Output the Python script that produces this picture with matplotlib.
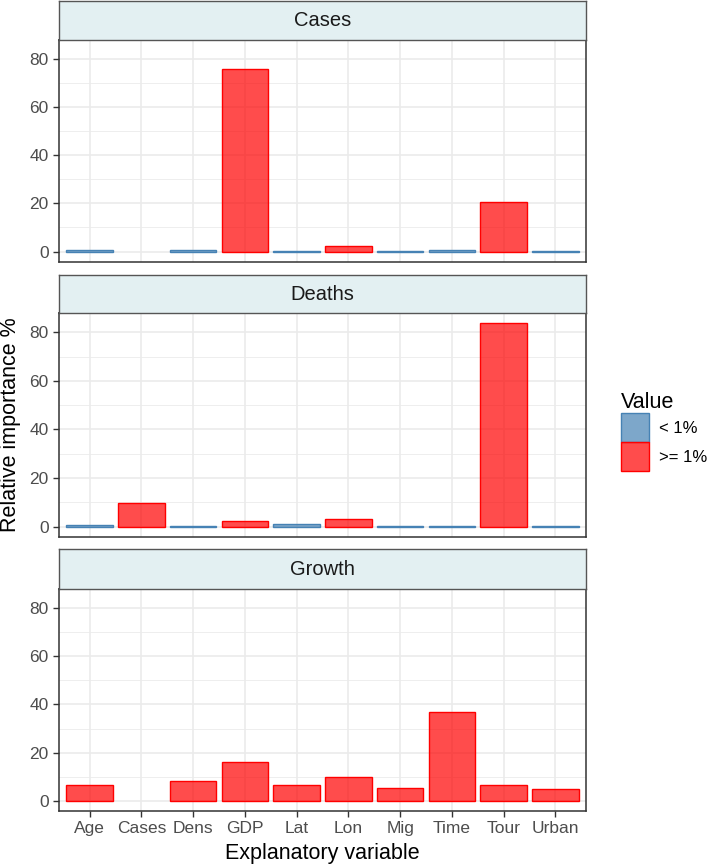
import matplotlib
matplotlib.use("Agg")
import matplotlib.pyplot as plt
import numpy as np
from matplotlib.patches import Patch

plt.rcParams['font.family'] = ['Liberation Sans', 'DejaVu Sans']

categories = ["Age", "Cases", "Dens", "GDP", "Lat", "Lon", "Mig", "Time", "Tour", "Urban"]
panels = ["Cases", "Deaths", "Growth"]
cases_vals = [0.5, None, 0.6, 75.6, 0.4, 2.2, 0.2, 0.8, 20.6, 0.4]
deaths_vals = [0.5, 9.9, 0.3, 2.4, 0.9, 3.3, 0.1, 0.2, 83.7, 0.3]
growth_vals = [6.6, None, 8.3, 16.3, 6.6, 10.1, 5.4, 37.0, 6.5, 5.1]
all_vals = [cases_vals, deaths_vals, growth_vals]
legend_labels = ["< 1%", ">= 1%"]

W, H = 714, 867
fig = plt.figure(figsize=(W / 100, H / 100), dpi=100)

left, right = 58.7, 586.3
layout = [  # strip_top, axes_top, axes_bottom
    (1.0, 39.7, 261.7),
    (274.7, 313.3, 536.7),
    (549.3, 589.0, 811.0),
]

blue_edge = "#4682B4"
red_edge = "#FF0000"
blue_fill = (70/255, 130/255, 180/255, 0.7)
red_fill = (1.0, 0.0, 0.0, 0.7)
grid_col = "#EBEBEB"
border_col = "#333333"
strip_fill = "#E3F0F2"

vmax = max(v for vals in all_vals for v in vals if v is not None)
ylo, yhi = -0.05 * vmax, vmax * 1.05
x = np.arange(1, len(categories) + 1)

for i, (name, vals, (st, at, ab)) in enumerate(zip(panels, all_vals, layout)):
    ax = fig.add_axes([left / W, 1 - ab / H, (right - left) / W, (ab - at) / H])
    sax = fig.add_axes([left / W, 1 - at / H, (right - left) / W, (at - st) / H])
    sax.set_facecolor(strip_fill)
    sax.set_xticks([]); sax.set_yticks([])
    for sp in sax.spines.values():
        sp.set_color("#555555"); sp.set_linewidth(1.0)
    sax.text(0.5, 0.5, name, ha="center", va="center", fontsize=14.5, color="#1A1A1A",
             transform=sax.transAxes)

    ax.set_xlim(0.4, len(categories) + 0.6)
    ax.set_ylim(ylo, yhi)
    ax.set_yticks([0, 20, 40, 60, 80])
    ax.set_yticks([10, 30, 50, 70], minor=True)
    ax.set_xticks(x)
    ax.grid(True, which="major", color=grid_col, linewidth=1.2, zorder=0)
    ax.grid(True, which="minor", axis="y", color=grid_col, linewidth=0.6, zorder=0)
    ax.set_axisbelow(True)
    for xi, v in zip(x, vals):
        if v is None:
            continue
        if v < 1:
            fc, ec = blue_fill, blue_edge
        else:
            fc, ec = red_fill, red_edge
        ax.bar(xi, v, width=0.9, color=fc, edgecolor=ec, linewidth=1.0, zorder=2)
    for sp in ax.spines.values():
        sp.set_color(border_col); sp.set_linewidth(1.1)
    ax.tick_params(axis="y", which="major", length=4.3, width=1.0, color="#333333",
                   labelsize=12.5, labelcolor="#4D4D4D", pad=3)
    ax.tick_params(axis="y", which="minor", length=0)
    if i == 2:
        ax.set_xticklabels(categories)
        ax.tick_params(axis="x", length=4.3, width=1.0, color="#333333",
                       labelsize=12.5, labelcolor="#4D4D4D", pad=3)
    else:
        ax.tick_params(axis="x", length=0, labelbottom=False)

fig.text(11 / W, 1 - 425 / H, "Relative importance %", rotation=90, ha="center", va="center",
         fontsize=15.5, color="#000000")
fig.text((left + right) / 2 / W, 1 - 853 / H, "Explanatory variable", ha="center", va="center",
         fontsize=15.5, color="#000000")

handles = [Patch(facecolor=blue_fill, edgecolor=blue_edge, label=legend_labels[0]),
           Patch(facecolor=red_fill, edgecolor=red_edge, label=legend_labels[1])]
leg = fig.legend(handles=handles, title="Value", loc="upper left",
                 bbox_to_anchor=(621 / W, 1 - 392 / H), frameon=False,
                 fontsize=12, title_fontsize=15.5, handlelength=1.65, handleheight=2.3,
                 handletextpad=0.65, labelspacing=0.0, borderaxespad=0, borderpad=0)
leg._legend_box.align = "left"

fig.savefig("out.png", dpi=100)
